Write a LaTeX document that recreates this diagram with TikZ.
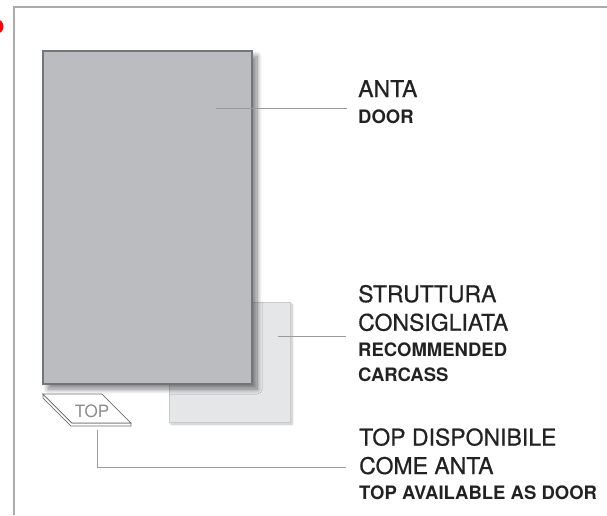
\documentclass[tikz,border=0pt]{standalone}
\usepackage{fontspec}
\setmainfont{TeX Gyre Heros}
\newfontfamily\medfont[FakeBold=0.6]{TeX Gyre Heros}
\usetikzlibrary{shadows.blur}

\definecolor{doorgray}{HTML}{BBBCC0}
\definecolor{doorline}{HTML}{74757A}
\definecolor{carcfill}{HTML}{E5E6E8}
\definecolor{carcline}{HTML}{C9CACC}
\definecolor{framegray}{HTML}{ABABAB}
\definecolor{leadgray}{HTML}{9A9A9A}
\definecolor{slabline}{HTML}{6E6E6E}
\definecolor{inkblack}{HTML}{222222}

\begin{document}
\begin{tikzpicture}[x=1pt,y=-1pt,
  leader/.style={draw=leadgray,line width=0.9pt},
  title/.style={anchor=base west,align=left,inner sep=0pt,text=inkblack,
    font=\medfont\fontsize{23}{28.5}\selectfont},
  subtitle/.style={anchor=base west,align=left,inner sep=0pt,text=inkblack,
    font=\bfseries\fontsize{18.5}{25.7}\selectfont}]

\useasboundingbox (0,0) rectangle (607,515);

% Frame and corner mark
\fill[red] (-4,26.5) circle (7.5);
\draw[framegray,line width=1.4pt] (14,515) -- (14,7) -- (607,7);

% Carcass (behind the door)
\draw[carcline,fill=carcfill,line width=0.8pt,
  blur shadow={shadow xshift=2pt,shadow yshift=-2pt,shadow blur steps=8,shadow opacity=25}]
  (169,302) rectangle (290,422);

% Door
\draw[doorline,fill=doorgray,line width=1.1pt,
  blur shadow={shadow xshift=5pt,shadow yshift=-5pt,shadow blur radius=5pt,shadow blur steps=12,shadow opacity=50}]
  (43,51) rectangle (252,384);

% Top slab
\filldraw[slabline,fill=white,line width=0.7pt]
  (43,394) -- (72,423) -- (131,423) -- (131,426) -- (71,426) -- (43,398) -- cycle;
\filldraw[slabline,fill=white,line width=0.7pt]
  (43,394) -- (102,394) -- (131,423) -- (72,423) -- cycle;
\node[text=leadgray!90!black,font=\fontsize{17}{17}\selectfont] (toplabel) at (92,411.5) {TOP};

% Labels (base anchor sits on the last line)
\node[title] (anta) at (358,97) {ANTA};
\node[subtitle] (door) at (358,123.3) {DOOR};
\node[title] (struttura) at (358,330.7) {STRUTTURA\\CONSIGLIATA};
\node[subtitle] (carcass) at (358,381.7) {RECOMMENDED\\CARCASS};
\node[title] (topanta) at (359,474) {TOP DISPONIBILE\\COME ANTA};
\node[subtitle] (topdoor) at (359,499.3) {TOP AVAILABLE AS DOOR};

% Leaders
\coordinate (door-in) at (216,108);
\coordinate (door-tip) at (347,108);
\coordinate (carc-in) at (278,336);
\coordinate (carc-tip) at (346,336);
\coordinate (top-in) at (97,430);
\coordinate (top-tip) at (346,467);
\draw[leader] (door-in) -- (door-tip);
\draw[leader] (carc-in) -- (carc-tip);
\draw[leader] (top-in) |- (top-tip);

\end{tikzpicture}
\end{document}
